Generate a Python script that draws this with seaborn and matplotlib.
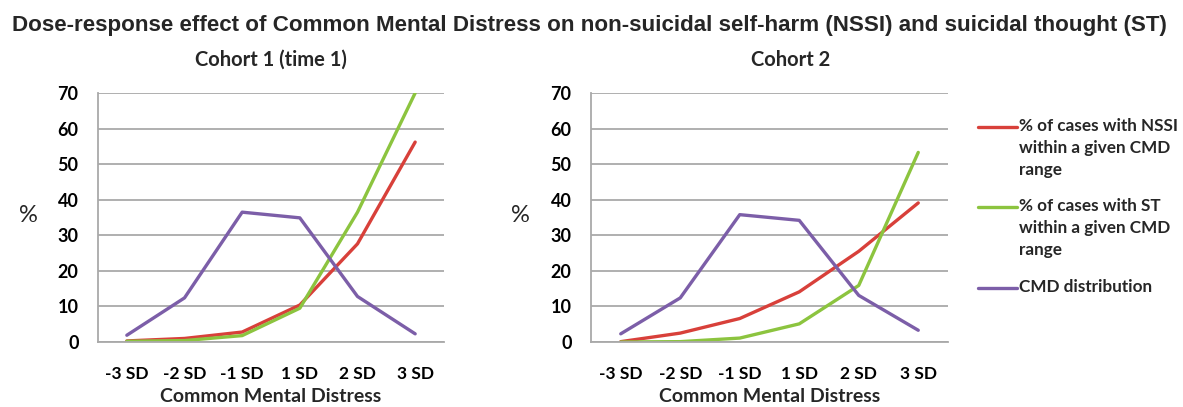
import numpy as np
import pandas as pd
import matplotlib
matplotlib.use("Agg")
import matplotlib.pyplot as plt
from matplotlib.lines import Line2D
import seaborn as sns

# ---------------- data ----------------
categories = ["-3 SD", "-2 SD", "-1 SD", "1 SD", "2 SD", "3 SD"]
series_names = ["% of cases with NSSI\nwithin a given CMD\nrange",
                "% of cases with ST\nwithin a given CMD\nrange",
                "CMD distribution"]
c1_nssi = [0.3, 1.0, 2.8, 10.4, 27.6, 56.2]
c1_st = [0.2, 0.4, 1.8, 9.5, 36.5, 70.0]
c1_cmd = [1.9, 12.4, 36.5, 34.9, 12.8, 2.3]
c2_nssi = [0.1, 2.5, 6.6, 14.1, 25.5, 39.1]
c2_st = [0.0, 0.1, 1.1, 5.1, 15.9, 53.3]
c2_cmd = [2.3, 12.4, 35.8, 34.2, 13.1, 3.3]
yticks = [0, 10, 20, 30, 40, 50, 60, 70]
panel_titles = ["Cohort 1 (time 1)", "Cohort 2"]
main_title = ("Dose-response effect of Common Mental Distress on non-suicidal "
              "self-harm (NSSI) and suicidal thought (ST)")
xlabel = "Common Mental Distress"

colors = ["#d8403a", "#8cc43f", "#7c5ea8"]

sns.set_style("white")
plt.rcParams['font.family'] = ['Lato', 'DejaVu Sans']

W, H = 1183, 407
fig = plt.figure(figsize=(W / 100, H / 100), dpi=100)


def long_df(nssi, st, cmd):
    rows = []
    for name, vals in zip(series_names, [nssi, st, cmd]):
        for i, v in enumerate(vals):
            rows.append({"pos": i, "value": v, "series": name})
    return pd.DataFrame(rows)


grid_c = "#a9a9a9"
panels = [
    dict(rect=[98, 342, 444, 93], data=(c1_nssi, c1_st, c1_cmd), title_x=0.5,
         pct_x=28),
    dict(rect=[591, 342, 948, 93], data=(c2_nssi, c2_st, c2_cmd), title_x=0.56,
         pct_x=520),
]

for k, p in enumerate(panels):
    x0, yb, x1, yt = p["rect"]
    ax = fig.add_axes([x0 / W, (H - yb) / H, (x1 - x0) / W, (yb - yt) / H])
    df = long_df(*p["data"])
    sns.lineplot(data=df, x="pos", y="value", hue="series",
                 hue_order=series_names, palette=colors, linewidth=2.4,
                 legend=False, ax=ax, sort=False)
    ax.set_xlim(-0.5, len(categories) - 0.5)
    ax.set_ylim(0, 70)
    ax.set_yticks(yticks)
    ax.set_xticks(np.arange(len(categories)))
    ax.set_xticklabels(categories)
    ax.set_xticks(np.arange(len(categories) + 1) - 0.5, minor=True)
    ax.yaxis.grid(True, color=grid_c, linewidth=1.3)
    ax.xaxis.grid(False)
    ax.set_axisbelow(True)
    for s in ["top", "right"]:
        ax.spines[s].set_visible(False)
    for s in ["left", "bottom"]:
        ax.spines[s].set_color(grid_c)
        ax.spines[s].set_linewidth(1.3)
    ax.tick_params(axis="y", which="major", length=5, width=1.3,
                   color=grid_c, pad=9, labelsize=13, labelcolor="black")
    ax.tick_params(axis="x", which="major", length=0, pad=17,
                   labelsize=12.5, labelcolor="black")
    ax.tick_params(axis="x", which="minor", length=6, width=1.3,
                   color=grid_c, direction="out")
    for lab in ax.get_xticklabels() + ax.get_yticklabels():
        lab.set_fontweight("bold")
    ah = yb - yt
    aw = x1 - x0
    ax.set_xlabel(xlabel, fontsize=14, fontweight="bold", va="center")
    ax.xaxis.set_label_coords(0.5, (yb - 396) / ah)
    ax.set_ylabel("%", fontsize=17, rotation=0, va="center", ha="center")
    ax.yaxis.set_label_coords((p["pct_x"] - x0) / aw, (yb - 216) / ah)
    ax.set_title(panel_titles[k], fontsize=14.5, fontweight="bold",
                 x=p["title_x"], y=(yb - 60) / ah, va="center", pad=0)

fig.text(589 / W, 1 - 25 / H, main_title, fontsize=16.1, fontweight="bold",
         family=["Liberation Sans", "DejaVu Sans"], ha="center", va="center")

# legend (keys drawn in figure coordinates)
leg_y = [127, 207, 288]
for name, c, y in zip(series_names, colors, leg_y):
    fig.add_artist(Line2D([978 / W, 1017 / W], [1 - y / H, 1 - y / H],
                          color=c, linewidth=2.4, transform=fig.transFigure))
    fig.text(1019 / W, 1 - (y - 9) / H, name, fontsize=12.3, fontweight="bold",
             ha="left", va="top", linespacing=1.45)

fig.savefig("out.png", dpi=100)
